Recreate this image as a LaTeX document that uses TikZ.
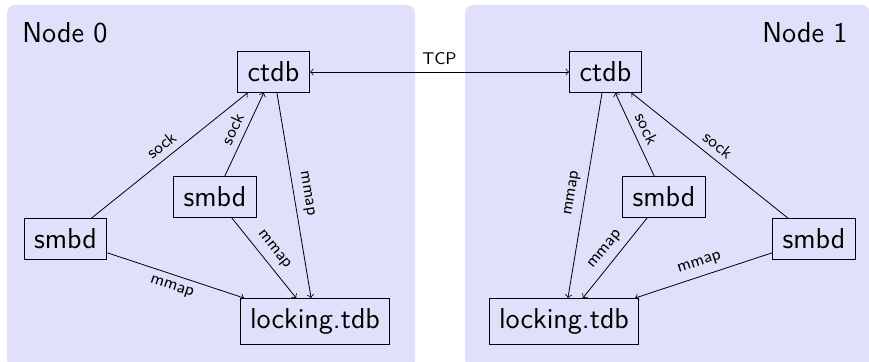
\documentclass[tikz,border=0pt]{standalone}
\usepackage{fontspec}
\definecolor{panelbg}{RGB}{224,224,250}
\begin{document}
\begin{tikzpicture}[x=0.5pt,y=-0.5pt,
  panel/.style={fill=panelbg,draw=none,rounded corners=4pt},
  box/.style={draw,line width=0.5pt,inner sep=5pt,font=\sffamily\fontsize{14.4}{17}\selectfont},
  title/.style={font=\sffamily\fontsize{14.4}{17}\selectfont,inner sep=0pt},
  lbl/.style={font=\sffamily\fontsize{8.5}{10}\selectfont,sloped},
  conn/.style={->,line width=0.4pt}]
\clip (0,0) rectangle (869,361);
\useasboundingbox (0,0) rectangle (869,361);
\fill[panel] (7,5) rectangle (415,368);
\fill[panel] (465,5) rectangle (870,368);
\node[title,anchor=base west] (t0) at (22,42) {Node 0};
\node[title,anchor=base east] (t1) at (848,42) {Node 1};
% left panel
\node[box] (c0) at (273.5,72) {ctdb};
\node[box] (m0) at (215,197) {smbd};
\node[box] (s0) at (65.5,239) {smbd};
\node[box] (l0) at (315,321.5) {locking.tdb};
% right panel
\node[box] (c1) at (605.5,72) {ctdb};
\node[box] (m1) at (664,197) {smbd};
\node[box] (s1) at (814,239) {smbd};
\node[box] (l1) at (564,321.5) {locking.tdb};
% TCP
\draw[<->,line width=0.4pt] (c0) -- node[lbl,above] {TCP} (c1);
% left edges
\draw[conn] (s0) -- node[lbl,above] {sock} (c0);
\draw[conn] (m0) -- node[lbl,above] {sock} (c0);
\draw[conn] (c0) -- node[lbl,above] {mmap} (l0);
\draw[conn] (m0) -- node[lbl,above] {mmap} (l0);
\draw[conn] (s0) -- node[lbl,below] {mmap} (l0);
% right edges
\draw[conn] (s1) -- node[lbl,above] {sock} (c1);
\draw[conn] (m1) -- node[lbl,above] {sock} (c1);
\draw[conn] (c1) -- node[lbl,above] {mmap} (l1);
\draw[conn] (m1) -- node[lbl,above] {mmap} (l1);
\draw[conn] (s1) -- node[lbl,above] {mmap} (l1);
\end{tikzpicture}
\end{document}
